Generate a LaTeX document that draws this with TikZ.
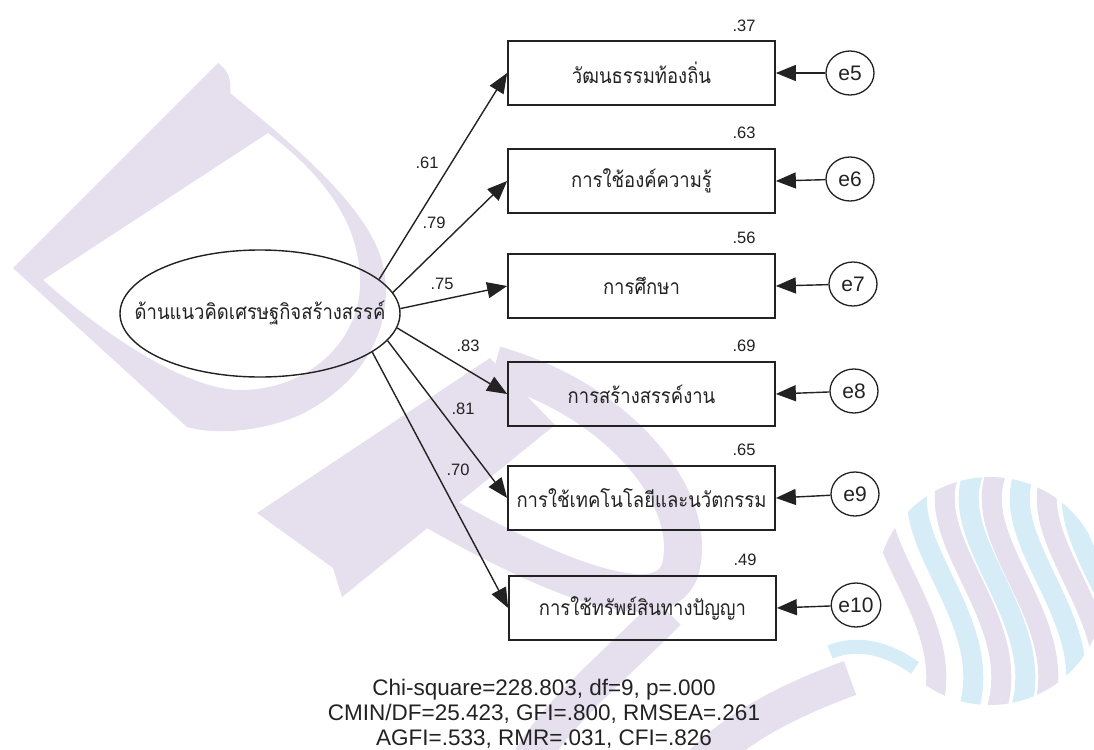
\documentclass[tikz,border=0pt]{standalone}
\usepackage{fontspec}
\setmainfont{Liberation Sans}
\newfontfamily\thaifont[Script=Thai,FakeStretch=0.88]{Loma}
\usetikzlibrary{arrows.meta,shapes.geometric}
\definecolor{wmP}{HTML}{E5DFEE}
\definecolor{wmC}{HTML}{D6ECF6}
\definecolor{ink}{HTML}{222222}
\begin{document}
\begin{tikzpicture}[x=1pt,y=-1pt,
  obs/.style={draw=ink, line width=1.7pt, minimum width=267pt, minimum height=64pt, inner sep=0pt,
    font=\thaifont\fontsize{21}{23}\selectfont, text=ink},
  errc/.style={ellipse, draw=ink, line width=1.3pt, minimum width=48pt, minimum height=44pt, inner sep=0pt,
    font=\fontsize{21}{24}\selectfont, text=ink},
  latent/.style={ellipse, draw=ink, line width=1.4pt, minimum width=280pt, minimum height=127pt, inner sep=0pt,
    font=\thaifont\fontsize{21}{23}\selectfont, text=ink},
  arr/.style={draw=ink, line width=1.4pt, -{Triangle[length=20pt,width=16pt]}},
  coef/.style={font=\fontsize{16.5}{18}\selectfont, inner sep=0pt, text=ink},
  fit/.style={font=\fontsize{22.5}{25}\selectfont, inner sep=0pt, anchor=base, text=ink},
  band/.style={line width=#1, line cap=butt}
]
\useasboundingbox (0,0) rectangle (1094,749);
% ---------------- watermark ----------------
\fill[wmP, even odd rule] (13,268) -- (218,63) .. controls (228,70) and (232,80) .. (230,93)
  .. controls (300,150) and (370,210) .. (383,265) .. controls (395,320) and (370,380) .. (300,415)
  .. controls (260,432) and (215,435) .. (187,427) -- cycle
  (43,280) -- (268,133) .. controls (330,180) and (362,230) .. (360,287)
  .. controls (358,340) and (310,390) .. (240,390) .. controls (190,390) and (110,340) .. cycle;
\fill[wmP] (257,513) -- (490,358) -- (555,425) -- (342,597) -- (333,568) -- cycle;
\draw[wmP, band=38pt] (495,365) .. controls (620,400) and (700,500) .. (680,570)
  .. controls (660,630) and (520,560) .. (425,505);
\draw[wmP, band=36pt] (668,612) .. controls (610,670) and (560,710) .. (530,760);
\draw[wmP, band=36pt] (850,678) .. controls (790,700) and (740,725) .. (700,765);
\draw[wmC, band=14pt] (830,652) .. controls (860,640) and (890,650) .. (915,668);
\begin{scope}
  \clip (990,591) circle (114);
  \foreach \x/\c in {888/wmP, 925/wmC, 953/wmP, 977/wmC, 1000/wmP, 1028/wmC, 1055/wmP, 1080/wmC, 1105/wmP} {
    \draw[\c, band=20pt] (\x,465) .. controls (\x-40,540) and (\x+80,620) .. (\x+40,720);
  }
\end{scope}
% ---------------- diagram ----------------
\node[latent] (lat) at (260,313.5) {\makebox[0pt]{ด้านแนวคิดเศรษฐกิจสร้างสรรค์}};

\node[obs] (b1) at (641.5,73)  {วัฒนธรรมท้องถิ่น};
\node[obs] (b2) at (641.5,181) {การใช้องค์ความรู้};
\node[obs] (b3) at (641.5,286) {การศึกษา};
\node[obs] (b4) at (641.5,394) {การสร้างสรรค์งาน};
\node[obs] (b5) at (641.5,498) {การใช้เทคโนโลยีและนวัตกรรม};
\node[obs] (b6) at (642.5,608) {การใช้ทรัพย์สินทางปัญญา};

\node[errc] (e5)  at (850,73)  {e5};
\node[errc] (e6)  at (850,179) {e6};
\node[errc] (e7)  at (853,284) {e7};
\node[errc] (e8)  at (854,391) {e8};
\node[errc] (e9)  at (855,494) {e9};
\node[errc] (e10) at (856,605) {e10};

\draw[arr] (lat.16.2) -- (b1.west);
\draw[arr] (lat.9.9) -- (b2.west);
\draw[arr] (lat.2.7) -- (b3.west);
\draw[arr] (lat.-6.8) -- (b4.west);
\draw[arr] (lat.-12.6) -- (b5.west);
\draw[arr] (lat.-19.1) -- (b6.west);

\draw[arr] (e5) -- (b1.east);
\draw[arr] (e6) -- (b2.east);
\draw[arr] (e7) -- (b3.east);
\draw[arr] (e8) -- (b4.east);
\draw[arr] (e9) -- (b5.east);
\draw[arr] (e10) -- (b6.east);

\node[coef] (c1) at (427,163) {.61};
\node[coef] (c2) at (434,223) {.79};
\node[coef] (c3) at (442,284) {.75};
\node[coef] (c4) at (468,346) {.83};
\node[coef] (c5) at (463,409) {.81};
\node[coef] (c6) at (458,470) {.70};

\node[coef] (r1) at (744,26)  {.37};
\node[coef] (r2) at (744,133) {.63};
\node[coef] (r3) at (744,238) {.56};
\node[coef] (r4) at (744,346) {.69};
\node[coef] (r5) at (744,450) {.65};
\node[coef] (r6) at (745,560) {.49};

\node[fit] (s1) at (544,695) {Chi-square=228.803, df=9, p=.000};
\node[fit] (s2) at (544,720) {CMIN/DF=25.423, GFI=.800, RMSEA=.261};
\node[fit] (s3) at (544,745) {AGFI=.533, RMR=.031, CFI=.826};
\end{tikzpicture}
\end{document}
